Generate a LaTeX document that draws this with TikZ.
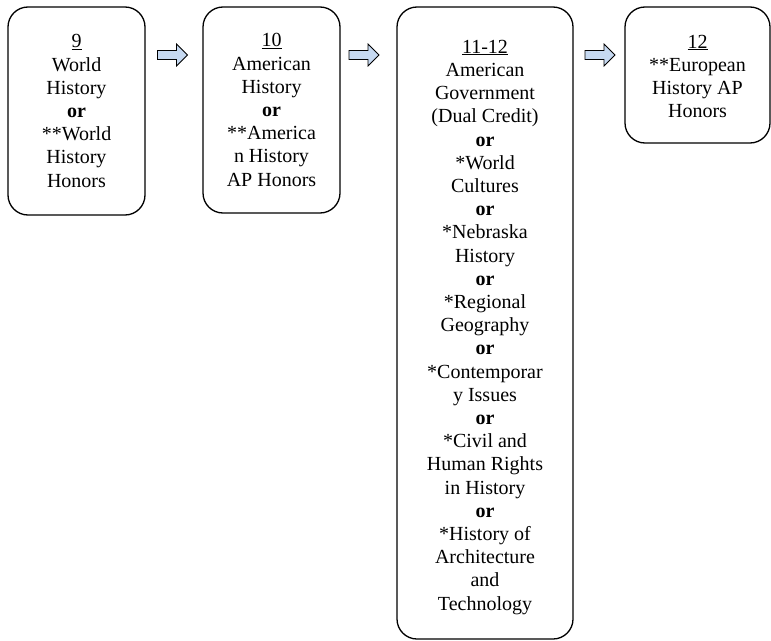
\documentclass[tikz,border=0pt]{standalone}
\usepackage{fontspec}
\setmainfont{Liberation Serif}
\begin{document}
\begin{tikzpicture}[x=1pt,y=-1pt,
  course/.style={draw=black, line width=1.3pt, rounded corners=20pt,
    align=center, inner sep=0pt,
    font=\fontsize{20}{23.2}\selectfont},
  blockarrow/.style={draw=black, line width=0.8pt, line join=miter,
    fill={rgb,255:red,198;green,217;blue,241}}]
\useasboundingbox (0,0) rectangle (771,640);

% grade boxes
\node[course, minimum width=137pt, minimum height=208pt] (g9) at (76.5,111)
  {\underline{9}\\World\\History\\\textbf{or}\\**World\\History\\Honors};
\node[course, minimum width=137pt, minimum height=206pt] (g10) at (271.5,110)
  {\underline{10}\\American\\History\\\textbf{or}\\**America\\n History\\AP Honors};
% the strut on the first line drops this column of text a little
\node[course, minimum width=176pt, minimum height=632pt] (g11) at (485,323)
  {\rule{0pt}{21.5pt}\underline{11-12}\\American\\Government\\(Dual Credit)\\\textbf{or}\\*World\\Cultures\\\textbf{or}\\*Nebraska\\History\\\textbf{or}\\*Regional\\Geography\\\textbf{or}\\*Contemporar\\y Issues\\\textbf{or}\\*Civil and\\Human Rights\\in History\\\textbf{or}\\*History of\\Architecture\\and\\Technology};
\node[course, minimum width=145pt, minimum height=136pt] (g12) at (697.5,75)
  {\rule{0pt}{16pt}\underline{12}\\**European\\History AP\\Honors};

% block arrows between the boxes (tail point, then shaft and head)
\coordinate (a1) at (157.5,55);
\coordinate (a2) at (349,55);
\coordinate (a3) at (585,55);
\foreach \a in {a1,a2,a3}{
  \draw[blockarrow] (\a) ++(0,-4.5) -- ++(19,0) -- ++(0,-6.5) -- ++(11,11)
    -- ++(-11,11) -- ++(0,-6.5) -- ++(-19,0) -- cycle;
}
\end{tikzpicture}
\end{document}
